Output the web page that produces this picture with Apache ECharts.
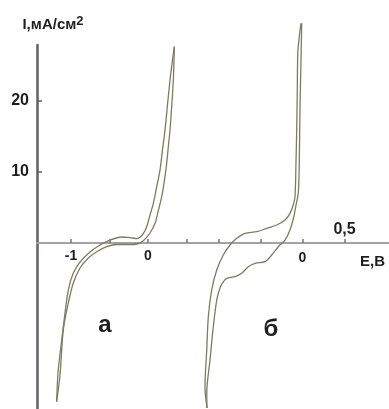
<!DOCTYPE html>
<html>
<head>
<meta charset="utf-8">
<script src="https://cdn.jsdelivr.net/npm/echarts@6/dist/echarts.min.js"></script>
<style>
html,body{margin:0;padding:0;background:#fff;}
#c{width:389px;height:409px;}
</style>
</head>
<body>
<div id="c"></div>
<script>
// ---- data (E in V, I in mA/cm2) ----
// curve "а": forward and reverse branches
var aBranch1 = [
  [-1.186,-22.35],[-1.169,-18.31],[-1.121,-13.66],[-1.078,-9.86],[-1.035,-6.62],
  [-0.970,-4.23],[-0.883,-2.68],[-0.753,-1.27],[-0.623,-0.28],[-0.494,0.42],
  [-0.342,0.85],[-0.234,0.77],[-0.143,0.63],[-0.065,1.27],[-0.017,2.30],
  [0.026,3.94],[0.069,5.59],[0.110,7.75],[0.156,10.28],[0.188,13.10],
  [0.221,15.92],[0.253,19.44],[0.286,22.96],[0.318,25.77],[0.342,27.65]
];
var aBranch2 = [
  [-1.186,-22.35],[-1.143,-18.59],[-1.100,-12.25],[-1.035,-8.45],[-0.970,-5.63],
  [-0.883,-3.52],[-0.775,-2.11],[-0.666,-1.23],[-0.536,-0.52],[-0.406,-0.21],
  [-0.234,-0.21],[-0.143,-0.14],[-0.065,0.28],[0.026,1.41],[0.091,2.77],
  [0.136,4.65],[0.178,6.52],[0.214,8.87],[0.243,11.27],[0.266,13.80],
  [0.286,15.92],[0.309,19.44],[0.329,22.96],[0.338,25.77],[0.342,27.65]
];
// curve "б": outer and inner (wavy) branches
var bBranch1 = [
  [-1.137,-23.24],[-1.161,-20.24],[-1.140,-15.07],[-1.121,-10.38],[-1.081,-6.62],
  [-1.021,-3.80],[-0.943,-1.69],[-0.863,-0.28],[-0.783,0.66],[-0.685,1.37],
  [-0.545,1.59],[-0.426,2.07],[-0.307,2.54],[-0.208,3.24],[-0.149,4.18],
  [-0.110,5.35],[-0.089,6.52],[-0.077,11.69],[-0.069,15.92],[-0.062,21.55],
  [-0.056,26.72],[-0.036,29.30],[-0.018,30.94]
];
var bBranch2 = [
  [-1.137,-23.24],[-1.140,-21.13],[-1.101,-16.48],[-1.062,-11.79],[-1.021,-8.03],
  [-0.982,-6.34],[-0.943,-5.49],[-0.902,-4.97],[-0.804,-4.75],[-0.724,-4.27],
  [-0.645,-3.34],[-0.565,-2.86],[-0.446,-2.63],[-0.367,-1.69],[-0.288,-0.52],
  [-0.208,0.42],[-0.149,1.83],[-0.107,3.52],[-0.077,5.35],[-0.050,7.04],
  [-0.038,11.69],[-0.030,18.73],[-0.018,25.77],[-0.0095,30.94]
];
// axis ticks and labels
var yTickValues = [10, 20];
var aTickValues = [-1, -0.5, 0, 0.5];
var aLabelValues = [-1, 0];
var aLabelTexts = ['-1', '0'];
var bTickValues = [-1, -0.5, 0, 0.5];
var bLabelValues = [0];
var bLabelTexts = ['0'];
var bTopLabelValues = [0.5];
var bTopLabelTexts = ['0,5'];
var yName = 'I,мА/см';
var yNameSup = '2';
var xName = 'E,B';
// curve annotations: [text, E, I]
var aAnnot = ['а', -0.56, -11.6];
var bAnnot = ['б', -0.375, -12.2];

function lookup(vals, texts) {
  return function (v) {
    for (var i = 0; i < vals.length; i++) if (Math.abs(vals[i] - v) < 1e-6) return texts[i];
    return '';
  };
}

var FONT = 'Liberation Sans';
var TXT = '#1e1e1e';
var LINE = '#7c7c60';
var Y_MIN = -23.38, Y_MAX = 27.89;
var GRID_TOP = 45, GRID_BOTTOM = 0, H = 409;
// x axes sit on I = 0: shift them up from the grid bottom
var zeroOffset = -((H - GRID_TOP - GRID_BOTTOM) * (0 - Y_MIN) / (Y_MAX - Y_MIN));

var chart = echarts.init(document.getElementById('c'), null, {renderer: 'canvas'});

var lineStyle = {color: LINE, width: 1.3};
function mk(data, xi, annot) {
  var s = {
    type: 'line', data: data, xAxisIndex: xi, yAxisIndex: 0,
    showSymbol: false, symbol: 'none', smooth: 0.3, clip: false,
    lineStyle: lineStyle, silent: true, animation: false
  };
  if (annot) {
    s.markPoint = {
      symbol: 'circle', symbolSize: 1, itemStyle: {color: 'rgba(0,0,0,0)'},
      label: {show: true, position: 'inside', formatter: annot[0], fontFamily: FONT,
        fontWeight: 'bold', fontSize: 24, color: TXT},
      data: [{coord: [annot[1], annot[2]]}]
    };
  }
  return s;
}

var A_MIN = -1.4416, A_MAX = 3.1299, B_MIN = -3.1607, B_MAX = 1.0298;

chart.setOption({
  animation: false,
  backgroundColor: '#fff',
  grid: {left: 37, right: 0, top: GRID_TOP, bottom: GRID_BOTTOM, containLabel: false, outerBoundsMode: 'none'},
  xAxis: [
    {
      type: 'value', position: 'bottom', min: A_MIN, max: A_MAX, offset: zeroOffset,
      axisLine: {show: true, onZero: false, lineStyle: {color: '#a3a3a3', width: 2}},
      axisTick: {show: true, inside: true, length: 4, customValues: aTickValues, lineStyle: {color: '#777', width: 1.5}},
      axisLabel: {show: true, customValues: aLabelValues, formatter: lookup(aLabelValues, aLabelTexts),
        margin: 6, fontFamily: FONT, fontWeight: 'bold', fontSize: 14, color: TXT},
      splitLine: {show: false},
      name: xName, nameLocation: 'end', nameGap: -4,
      nameTextStyle: {fontFamily: FONT, fontWeight: 'bold', fontSize: 15, color: TXT,
        align: 'right', verticalAlign: 'top', padding: [11, 0, 0, 0]}
    },
    {
      type: 'value', position: 'bottom', min: B_MIN, max: B_MAX, offset: zeroOffset,
      axisLine: {show: false, onZero: false},
      axisTick: {show: true, inside: true, length: 4, customValues: bTickValues, lineStyle: {color: '#777', width: 1.5}},
      axisLabel: {show: true, customValues: bLabelValues, formatter: lookup(bLabelValues, bLabelTexts),
        margin: 8, fontFamily: FONT, fontWeight: 'bold', fontSize: 14, color: TXT},
      splitLine: {show: false}
    },
    {
      type: 'value', position: 'bottom', min: B_MIN, max: B_MAX, offset: zeroOffset,
      axisLine: {show: false, onZero: false},
      axisTick: {show: false},
      axisLabel: {show: true, inside: true, customValues: bTopLabelValues, formatter: lookup(bTopLabelValues, bTopLabelTexts),
        margin: 5, fontFamily: FONT, fontWeight: 'bold', fontSize: 16, color: TXT},
      splitLine: {show: false}
    }
  ],
  yAxis: [{
    type: 'value', position: 'left', min: Y_MIN, max: Y_MAX,
    axisLine: {show: true, onZero: false, lineStyle: {color: '#5f5f70', width: 2.5}},
    axisTick: {show: true, inside: true, length: 5, customValues: yTickValues, lineStyle: {color: '#5f5f70', width: 1.5}},
    axisLabel: {show: true, customValues: yTickValues, margin: 8, fontFamily: FONT, fontWeight: 'bold', fontSize: 16, color: TXT},
    splitLine: {show: false},
    name: '{t|' + yName + '}{s|' + yNameSup + '}',
    nameLocation: 'end', nameGap: 11,
    nameTextStyle: {
      align: 'center', padding: [0, 0, 0, 32],
      rich: {
        t: {fontFamily: FONT, fontWeight: 'bold', fontSize: 15, color: TXT, lineHeight: 19},
        s: {fontFamily: FONT, fontWeight: 'bold', fontSize: 13, color: TXT, lineHeight: 13, verticalAlign: 'top'}
      }
    }
  }],
  series: [
    mk(aBranch1, 0, aAnnot),
    mk(aBranch2, 0, null),
    mk(bBranch1, 1, bAnnot),
    mk(bBranch2, 1, null)
  ]
});
</script>
</body>
</html>
